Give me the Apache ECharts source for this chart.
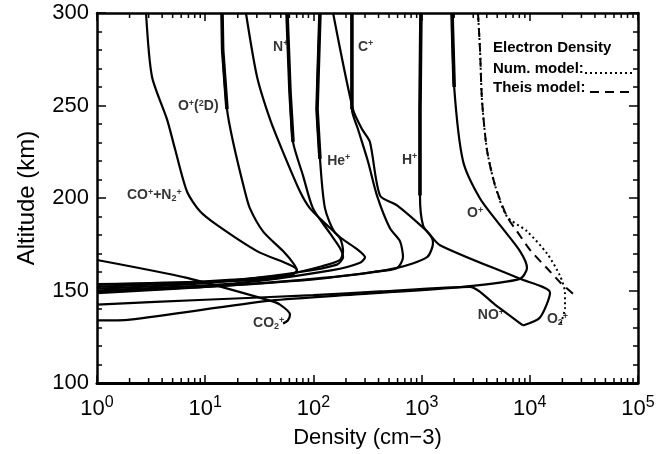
<!DOCTYPE html>
<html><head><meta charset="utf-8">
<script src="https://cdn.jsdelivr.net/npm/echarts@6/dist/echarts.min.js"></script>
<style>html,body{margin:0;padding:0;background:#fff}#c{width:658px;height:454px}</style>
</head><body><div id="c"></div>
<script>
// Axis ticks
const altTicks = [100, 150, 200, 250, 300];
const densityExponents = [0, 1, 2, 3, 4, 5];
const minorMultipliers = [2, 3, 4, 5, 6, 7, 8, 9];

// Ion density profiles: [density (cm-3), altitude (km)]
const coN2Plus = [[2.84,300],[3.22,265.7],[4.43,242.6],[5.26,226.5],[6.79,203.5],[8.95,192.8],[12.9,185.3],[30.1,171.3],[60.8,163.8],[70.5,161.1],[60.8,157.9],[20,155.5],[5,154],[1,153]];
const o2DPlus = [[14.3,300],[14.5,280],[15.9,248],[18.1,230.3],[23.3,203.5],[25.9,194.4],[34.2,182],[52.4,171.3],[64.8,164.9],[70.5,160.6],[50,157],[10,154.5],[1,152]];
const unlabeled = [[23.8,300],[30.1,265.7],[39.7,242.6],[52.4,224.8],[75.2,203.5],[93,194.4],[128,186.3],[176,178.3],[188,171.3],[176,166.5],[123,163.3],[50,158],[10,155],[1,153.5]];
const nPlus = [[57,300],[60.8,257.1],[64.8,230.3],[80.2,212.1],[99.1,194.4],[142,181],[176,173],[188,168],[165,164],[75,160],[10,154],[1,151]];
const hePlus = [[115,300],[108,248],[115,221.2],[128,194.4],[160,181],[258,172],[300,168],[270,165],[150,161],[20,154],[1,150]];
const cPlus = [[227,300],[227,248],[258,237.3],[320,219.6],[387,201.3],[510,183.6],[631,176.7],[673,168],[593,162.2],[356,160],[100,156],[10,152],[1,149.5]];
const o2Plus = [[152,300],[232,248],[281,237.3],[333,230.3],[413,201.3],[593,196],[1122,182],[1479,174.5],[8113,156.3],[15380,148.8],[12420,135.4],[8650,131.1]];
const hPlus = [[986,300],[966,248],[966,201.3],[1030,185.3],[1248,178.3],[1274,175.6],[1122,168],[593,162.2],[200,158],[20,153],[1,148.5]];
const oPlus = [[1910,300],[2000,260],[2414,220],[3467,199.7],[5309,185.3],[8113,171.3],[9419,162.2],[8113,156.3],[2414,152],[270,148],[40,144.5],[2.02,134.3],[1,133.8]];
const noPlus = [[1,142.4],[10,145],[100,147.5],[413,149.5],[2801,152],[4764,142.4],[8650,131.1]];
const co2Plus = [[1,166.5],[6.79,156.8],[39.7,144.5],[49.1,142.4],[60.8,137],[58,133.8],[52.4,132.2]];

// Electron density
const neNumModel = [[3320,300],[3467,280],[3615,253],[4019,226],[4764,207],[6153,190],[9419,182],[14420,170],[19010,158],[21140,148.8],[21140,140.7],[19010,131.1]];
const neTheisModel = [[3320,300],[3467,280],[3615,253],[4019,226],[4764,207],[6153,190],[7614,182],[10040,172],[14420,162],[19010,154.5],[25060,148.3]];

// Curve labels: [density, altitude, text]
const ionLabels = [
  [42.4, 281.8, 'N{sup|+}'],
  [258, 281.8, 'C{sup|+}'],
  [5.6, 249.6, 'O{sup|+}({sup|2}D)'],
  [134, 220.1, 'He{sup|+}'],
  [659, 220.6, 'H{sup|+}'],
  [1.89, 201.3, 'CO{sup|+}+N{sub|2}{sup|+}'],
  [2630, 191.7, 'O{sup|+}'],
  [3310, 136.5, 'NO{sup|+}'],
  [14400, 134.3, 'O{sub|2}{sup|+}'],
  [27.7, 132.2, 'CO{sub|2}{sup|+}']
];

const FONT = 'Liberation Sans';
const chart = echarts.init(document.getElementById('c'));

function ionSeries(data, w, smooth) {
  return { type: 'line', data: data, symbol: 'none', smooth: smooth, silent: true,
    lineStyle: { color: '#000', width: w }, z: 3 };
}

const minorTickVals = [];
densityExponents.slice(0, -1).forEach(e => minorMultipliers.forEach(m => minorTickVals.push(m * Math.pow(10, e))));

const W = 2.2, WT = 3.6, S = 0.25;
const option = {
  animation: false,
  grid: { left: 97, right: 20, top: 13, bottom: 68 },
  xAxis: [{
    type: 'log', logBase: 10, min: 1, max: 100000,
    axisLine: { lineStyle: { color: '#000', width: 3 } },
    axisTick: { inside: true, length: 8, lineStyle: { color: '#000', width: 1.5 } },
    splitLine: { show: false },
    axisLabel: { fontFamily: FONT, fontSize: 22, color: '#000', margin: 12,
      formatter: v => '10{sup|' + Math.round(Math.log10(v)) + '}',
      rich: { sup: { fontFamily: FONT, fontSize: 16, color: '#000', verticalAlign: 'top', padding: [0, 0, 12, 0] } } },
    name: 'Density (cm\u22123)', nameLocation: 'middle', nameGap: 44,
    nameTextStyle: { fontFamily: FONT, fontSize: 22, color: '#000' }
  }, {
    type: 'log', logBase: 10, min: 1, max: 100000, position: 'top',
    axisLine: { lineStyle: { color: '#000', width: 2.5 } },
    axisTick: { inside: true, length: 8, lineStyle: { color: '#000', width: 1.5 } },
    axisLabel: { show: false }, splitLine: { show: false }
  }],
  yAxis: [{
    type: 'value', min: 100, max: 300, interval: 50,
    axisLine: { lineStyle: { color: '#000', width: 2.5 } },
    axisTick: { inside: true, length: 9, lineStyle: { color: '#000', width: 1.5 } },
    minorTick: { show: true, splitNumber: 5, length: 5, lineStyle: { color: '#000', width: 1.5 } },
    splitLine: { show: false },
    axisLabel: { fontFamily: FONT, fontSize: 22, color: '#000', margin: 8 },
    name: 'Altitude (km)', nameLocation: 'middle', nameGap: 58,
    nameTextStyle: { fontFamily: FONT, fontSize: 24, color: '#000' }
  }, {
    type: 'value', min: 100, max: 300, interval: 50, position: 'right',
    axisLine: { lineStyle: { color: '#000', width: 2.5 } },
    axisTick: { inside: true, length: 9, lineStyle: { color: '#000', width: 1.5 } },
    minorTick: { show: true, splitNumber: 5, length: 5, lineStyle: { color: '#000', width: 1.5 } },
    splitLine: { show: false }, axisLabel: { show: false }
  }],
  series: [
    ionSeries(coN2Plus, W, S), ionSeries(o2DPlus, W, S), ionSeries(unlabeled, W, S),
    ionSeries(nPlus, W, S), ionSeries(hePlus, W, S), ionSeries(cPlus, W, S),
    ionSeries(o2Plus, W, S), ionSeries(hPlus, W, S), ionSeries(oPlus, W, S),
    ionSeries(noPlus, W, S), ionSeries(co2Plus, W, S),
    // heavier upper segments (overlapping profiles)
    ionSeries(o2DPlus.slice(0, 3), WT, false), ionSeries(nPlus.slice(0, 3), WT, false),
    ionSeries(hePlus.slice(0, 3), WT, false), ionSeries(cPlus.slice(0, 2), WT, false),
    ionSeries(hPlus.slice(0, 3), WT, false), ionSeries(oPlus.slice(0, 2), WT, false),
    { type: 'line', data: neNumModel, symbol: 'none', smooth: S, silent: true,
      lineStyle: { color: '#000', width: 2, type: [2, 3] }, z: 3 },
    { type: 'line', data: neTheisModel, symbol: 'none', smooth: S, silent: true,
      lineStyle: { color: '#000', width: 2, type: [9, 6] }, z: 3 },
    { type: 'scatter', data: ionLabels, symbolSize: 0, silent: true, z: 5,
      label: { show: true, position: 'right', distance: 0, fontFamily: FONT, fontWeight: 'bold', fontSize: 14, color: '#000',
        formatter: p => p.data[2],
        rich: { sup: { fontFamily: FONT, fontWeight: 'bold', fontSize: 9, color: '#000', verticalAlign: 'top', padding: [0,0,6,0] },
                sub: { fontFamily: FONT, fontWeight: 'bold', fontSize: 9, color: '#000', verticalAlign: 'bottom', padding: [5,0,0,0] } } } },
    { type: 'custom', silent: true, z: 4, data: minorTickVals,
      renderItem: (params, api) => {
        const v = api.value(0);
        const b = api.coord([v, 100]);
        const t = api.coord([v, 300]);
        return { type: 'group', children: [
          { type: 'line', shape: { x1: b[0], y1: b[1], x2: b[0], y2: b[1] - 5 }, style: { stroke: '#000', lineWidth: 1.5 } },
          { type: 'line', shape: { x1: t[0], y1: t[1], x2: t[0], y2: t[1] + 5 }, style: { stroke: '#000', lineWidth: 1.5 } }
        ] };
      }, encode: { x: 0 } }
  ],
  graphic: [
    { type: 'text', left: 493, top: 40, style: { text: 'Electron Density', fontFamily: FONT, fontWeight: 'bold', fontSize: 15, fill: '#000' } },
    { type: 'text', left: 493, top: 61, style: { text: 'Num. model:', fontFamily: FONT, fontWeight: 'bold', fontSize: 15, fill: '#000' } },
    { type: 'text', left: 493, top: 80, style: { text: 'Theis model:', fontFamily: FONT, fontWeight: 'bold', fontSize: 15, fill: '#000' } },
    { type: 'line', shape: { x1: 585, y1: 73, x2: 632, y2: 73 }, style: { stroke: '#000', lineWidth: 2, lineDash: [2, 3] } },
    { type: 'line', shape: { x1: 590, y1: 92, x2: 632, y2: 92 }, style: { stroke: '#000', lineWidth: 2, lineDash: [9, 6] } }
  ]
};
chart.setOption(option);
</script></body></html>
